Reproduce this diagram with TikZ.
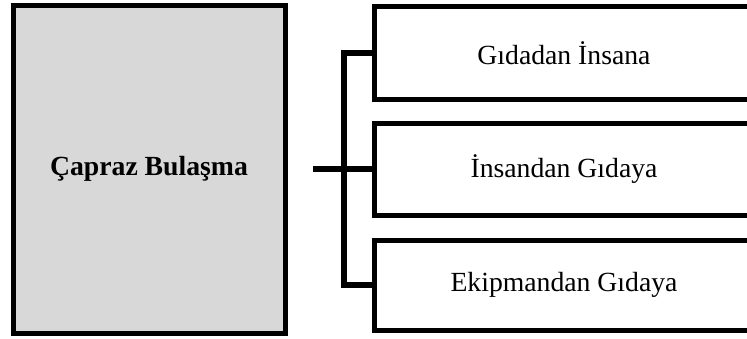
\documentclass[tikz,border=0pt]{standalone}
\usepackage{fontspec}
\setmainfont{Liberation Serif}
\definecolor{boxgray}{RGB}{216,216,216}
\begin{document}
\begin{tikzpicture}[x=1pt,y=-1pt,
  every node/.style={font=\fontsize{27.7}{33}\selectfont},
  mainbox/.style={draw=black,line width=5pt,fill=boxgray,minimum width=272pt,minimum height=328pt,inner sep=0pt},
  itembox/.style={draw=black,line width=5pt,fill=white,minimum width=380pt,inner sep=0pt},
  conn/.style={draw=black,line width=5.5pt}]
\useasboundingbox (0,0) rectangle (747,338);
\clip (0,0) rectangle (747,338);
\node[mainbox] (main) at (149,169) {\textbf{Çapraz Bulaşma}};
\node[itembox,minimum height=92.5pt] (top) at (564,52.75) {Gıdadan İnsana};
\node[itembox,minimum height=92pt] (mid) at (564,169) {İnsandan Gıdaya};
\node[itembox,minimum height=90pt] (bot) at (564,285) {Ekipmandan Gıdaya};
\coordinate (bus) at (344,169);
\coordinate (stub) at (313,169);
\draw[conn] (top.west) -| (bus) |- (bot.west);
\draw[conn] (stub) -- (mid.west);
\end{tikzpicture}
\end{document}
